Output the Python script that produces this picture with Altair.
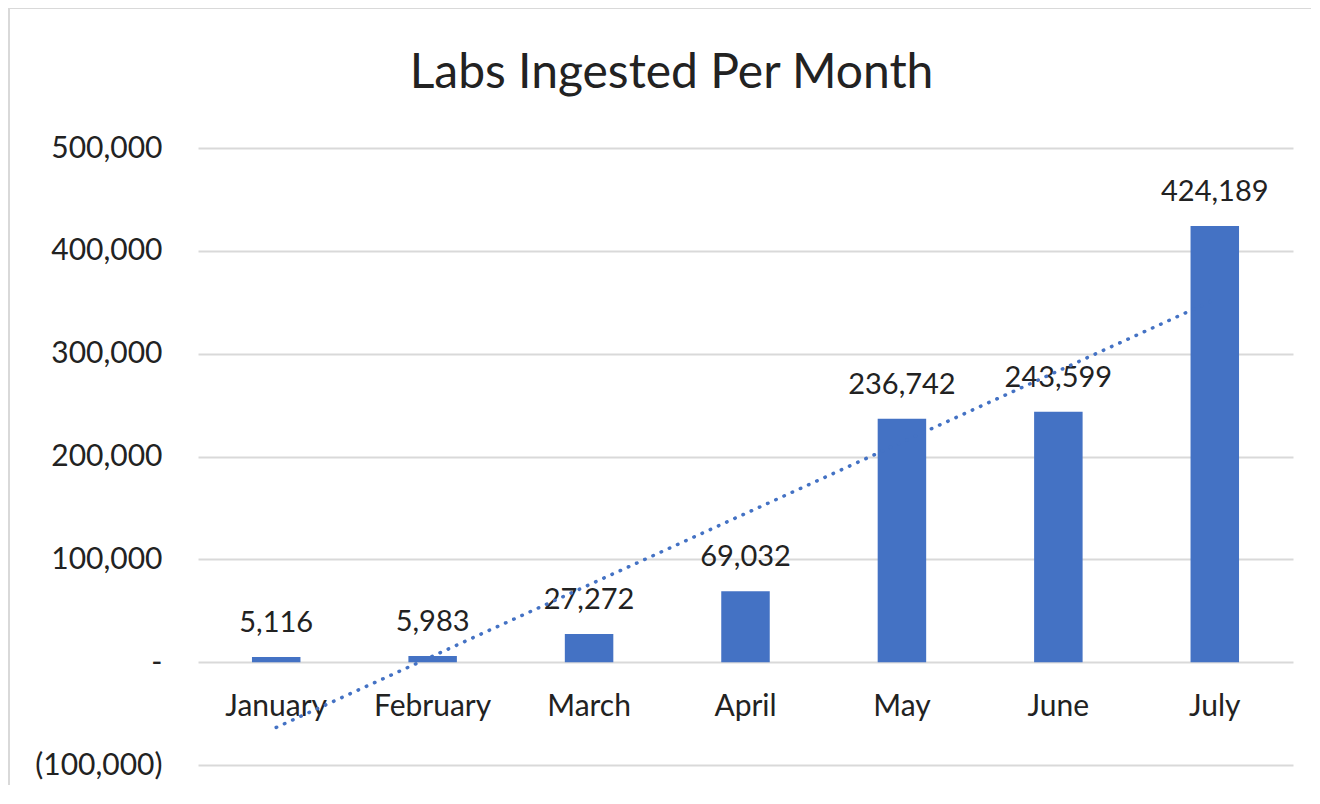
import altair as alt
import pandas as pd

months = ["January", "February", "March", "April", "May", "June", "July"]
labs = [5116, 5983, 27272, 69032, 236742, 243599, 424189]
month_index = [1, 2, 3, 4, 5, 6, 7]
y_ticks = [-100000, 0, 100000, 200000, 300000, 400000, 500000]

df = pd.DataFrame({"month": months, "labs": labs, "idx": month_index})

FONT = "Lato"
TEXT = "#222222"
BLUE = "#4472C4"
GRID = "#d9d9d9"

W, H = 1095, 617

y_scale = alt.Scale(domain=[-100000, 500000], nice=False)
y_axis = alt.Axis(
    values=y_ticks,
    labelExpr="datum.value == 0 ? '-' : (datum.value < 0 ? '(' + format(-datum.value, ',') + ')' : format(datum.value, ','))",
    labelFont=FONT, labelFontSize=30, labelColor=TEXT,
    labelPadding=36, grid=True, gridColor=GRID, gridWidth=2,
    domain=False, ticks=False, title=None,
)

x_scale = alt.Scale(domain=months, paddingInner=0.69, paddingOuter=0.345)
x_axis = alt.Axis(
    labelFont=FONT, labelFontSize=30, labelColor=TEXT, labelAngle=0,
    labelPadding=29, domain=False, ticks=False, grid=False, title=None,
    offset=-103,
)

base = alt.Chart(df)

bars = base.mark_bar(color=BLUE).encode(
    x=alt.X("month:N", scale=x_scale, axis=x_axis, sort=months),
    y=alt.Y("labs:Q", scale=y_scale, axis=y_axis),
)

labels = base.mark_text(
    font=FONT, fontSize=29, color=TEXT, baseline="bottom", dy=-19
).encode(
    x=alt.X("month:N", scale=x_scale, sort=months, axis=None),
    y=alt.Y("labs:Q", scale=y_scale),
    text=alt.Text("labs:Q", format=","),
)

trend = base.transform_regression(
    "idx", "labs", method="linear", extent=[1, 7]
).mark_line(
    color=BLUE, strokeWidth=3.5, strokeDash=[0.5, 8.5], strokeCap="round"
).encode(
    x=alt.X("idx:Q", scale=alt.Scale(domain=[0.5, 7.5], nice=False, zero=False), axis=None),
    y=alt.Y("labs:Q", scale=y_scale),
)

frame_top = base.mark_rule(color=GRID, strokeWidth=2).encode(
    x=alt.value(-189), x2=alt.value(1113), y=alt.value(-140),
)
frame_left = base.mark_rule(color=GRID, strokeWidth=2).encode(
    x=alt.value(-189), y=alt.value(-140), y2=alt.value(638),
)

chart = alt.layer(frame_top, frame_left, bars, labels, trend).resolve_scale(
    x="independent"
).properties(
    width=W, height=H,
    autosize=alt.AutoSizeParams(type="none"),
    padding={"left": 190, "top": 140, "right": 19, "bottom": 20},
    title=alt.TitleParams(
        "Labs Ingested Per Month", font=FONT, fontSize=48, fontWeight="normal",
        color=TEXT, anchor="middle", frame="group", dx=-74, offset=-129,
        baseline="alphabetic",
    ),
).configure(background="white").configure_view(stroke=None)

chart.save("out.html", embed_options={"renderer": "svg", "actions": False})
